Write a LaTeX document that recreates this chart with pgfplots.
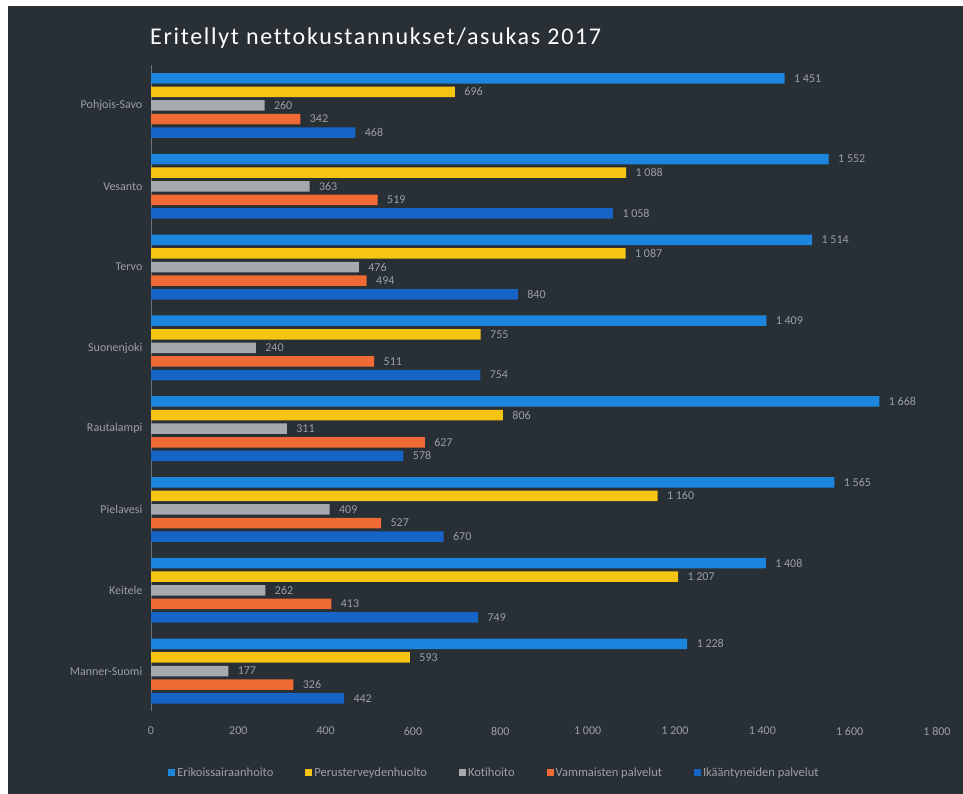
\documentclass[border=0pt]{standalone}
\usepackage{fontspec}
\setmainfont{Carlito}[Ligatures=NoCommon]
\usepackage{pgfplots}
\pgfplotsset{compat=1.18}
\definecolor{bgdark}{HTML}{282F35}
\definecolor{cEsh}{HTML}{1C86DE}
\definecolor{cPth}{HTML}{F6C514}
\definecolor{cKot}{HTML}{A6AAAF}
\definecolor{cVam}{HTML}{EF6A35}
\definecolor{cIka}{HTML}{1564C6}
\definecolor{txtgray}{HTML}{9BA0A5}
\definecolor{axgray}{HTML}{6E7378}
\begin{document}
\begin{tikzpicture}[x=1pt,y=1pt]
\fill[white] (0,0) rectangle (963,794);
\fill[bgdark] (8,0) rectangle (963,788);
\node[anchor=base west,text=white,inner sep=0pt] at (150,749)
  {\fontsize{24}{28}\selectfont\addfontfeatures{LetterSpace=7,Ligatures=NoCommon}Eritellyt nettokustannukset/asukas 2017};
\begin{axis}[
  at={(151pt,82.5pt)}, anchor=south west,
  scale only axis, width=786pt, height=646.4pt,
  xmin=0, xmax=1800, ymin=-0.5, ymax=7.5,
  xbar, bar width=10.5pt,
  axis lines=left, axis line style={-},
  x axis line style={draw=none},
  y axis line style={draw=axgray, line width=0.8pt},
  tick style={draw=none},
  xtick={0,200,...,1800},
  ytick={0,1,...,7},
  yticklabels={Manner-Suomi,Keitele,Pielavesi,Rautalampi,Suonenjoki,Tervo,Vesanto,Pohjois-Savo},
  /pgf/number format/assume math mode=true,
  /pgf/number format/1000 sep={\ },
  ticklabel style={font=\fontsize{12}{14}\selectfont, text=txtgray},
  xticklabel style={yshift=-10pt},
  yticklabel style={xshift=-3pt},
  nodes near coords,
  nodes near coords style={font=\fontsize{12}{14}\selectfont, text=txtgray, anchor=west, xshift=6pt},
  clip=false,
  legend columns=5,
  legend style={at={(0.437,-0.095)}, anchor=center, draw=none, fill=none,
    font=\fontsize{12.5}{14}\selectfont, text=txtgray,
    /tikz/every even column/.append style={column sep=30pt}},
  legend image code/.code={\fill[#1] (0pt,-3.5pt) rectangle (7pt,3.5pt);},
]
\addplot[fill=cEsh, draw=none, bar shift=27.2pt] coordinates {(1451,7) (1552,6) (1514,5) (1409,4) (1668,3) (1565,2) (1408,1) (1228,0)};
\addplot[fill=cPth, draw=none, bar shift=13.6pt] coordinates {(696,7) (1088,6) (1087,5) (755,4) (806,3) (1160,2) (1207,1) (593,0)};
\addplot[fill=cKot, draw=none, bar shift=0pt] coordinates {(260,7) (363,6) (476,5) (240,4) (311,3) (409,2) (262,1) (177,0)};
\addplot[fill=cVam, draw=none, bar shift=-13.6pt] coordinates {(342,7) (519,6) (494,5) (511,4) (627,3) (527,2) (413,1) (326,0)};
\addplot[fill=cIka, draw=none, bar shift=-27.2pt] coordinates {(468,7) (1058,6) (840,5) (754,4) (578,3) (670,2) (749,1) (442,0)};
\legend{Erikoissairaanhoito,Perusterveydenhuolto,Kotihoito,Vammaisten palvelut,Ikääntyneiden palvelut}
\end{axis}
\end{tikzpicture}
\end{document}
